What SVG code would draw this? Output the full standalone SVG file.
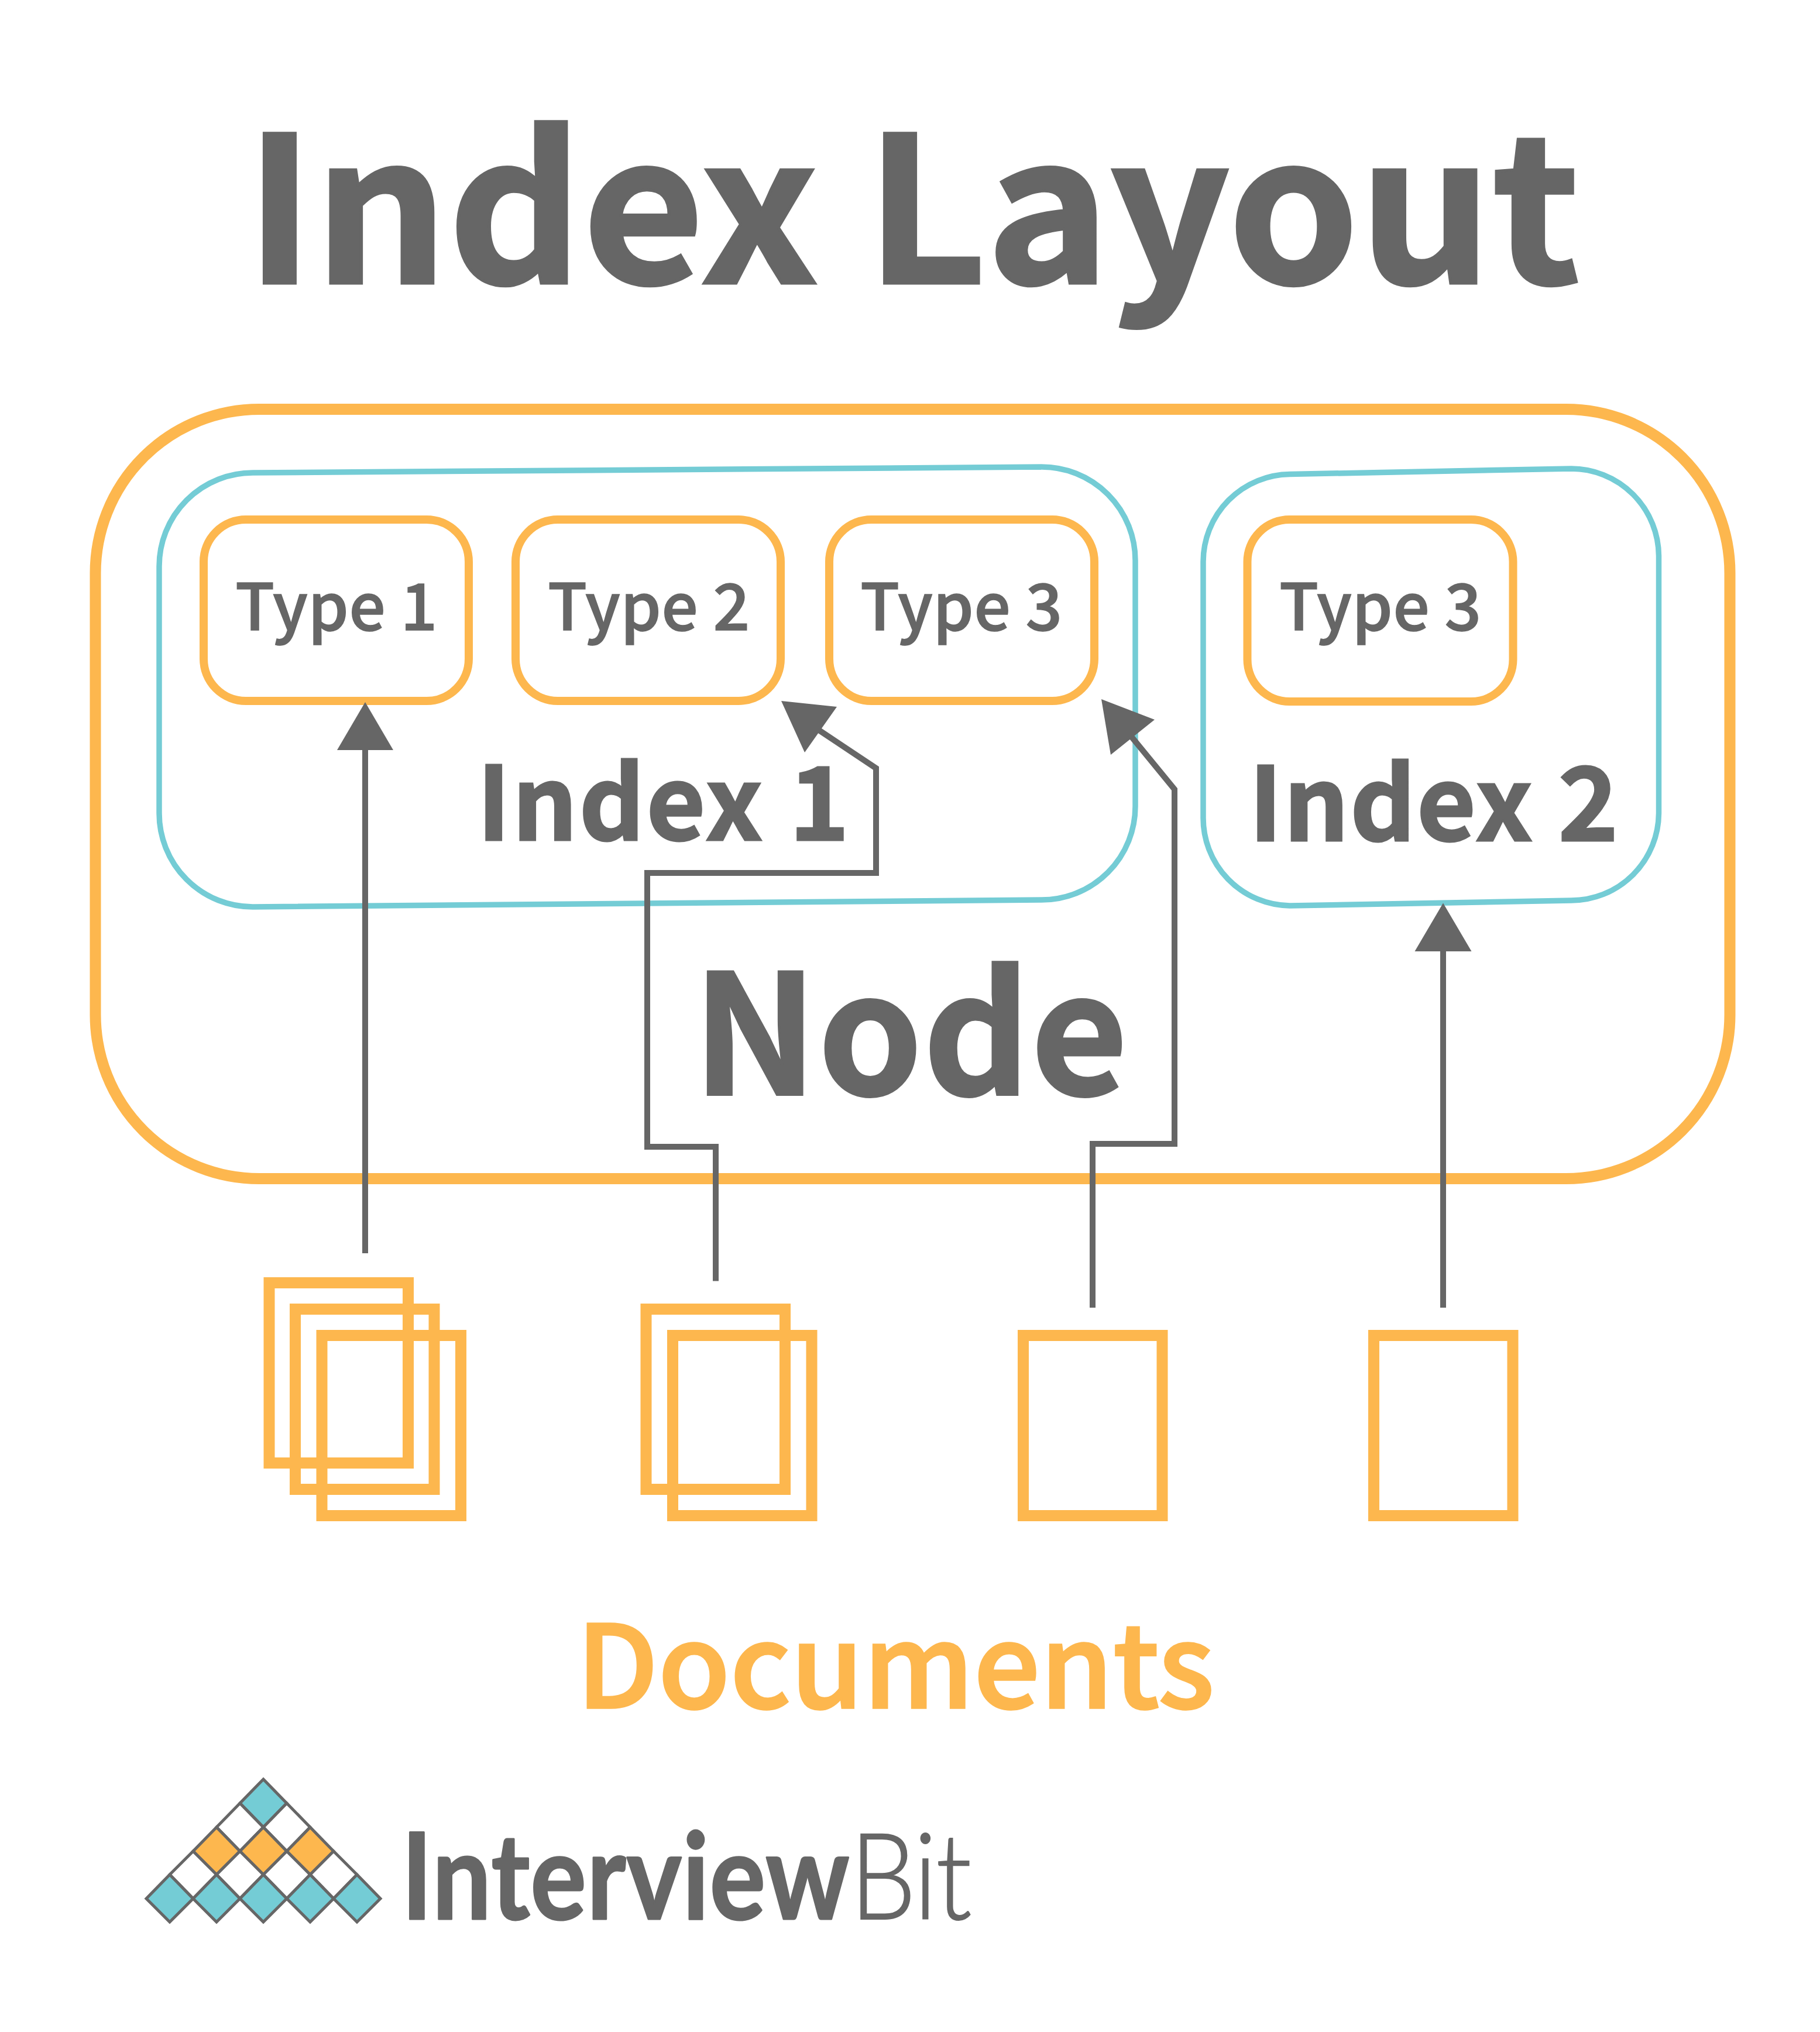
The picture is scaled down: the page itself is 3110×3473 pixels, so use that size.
<svg xmlns="http://www.w3.org/2000/svg" width="3110" height="3473" viewBox="0 0 3110 3473">
<style>
.t{font-family:"Noto Sans CJK SC","Noto Sans",sans-serif;font-weight:700;fill:#666;stroke:#666}
.ty{font-family:"Noto Sans CJK SC","Noto Sans",sans-serif;font-weight:500;font-size:110px;fill:#666;stroke:#666;stroke-width:1.5;letter-spacing:.6px}
.o{fill:none;stroke:#fdb74e;stroke-width:14}
.b{fill:none;stroke:#74ccd5;stroke-width:9.5}
.d{fill:none;stroke:#fdb74e;stroke-width:19}
.c{fill:none;stroke:#666;stroke-width:10}
.h{fill:#666}
.lg{stroke:#666;stroke-width:5}
</style>
<rect width="3110" height="3473" fill="#fff"/>
<g id="title"><text class="t" x="419" y="484" font-size="346" stroke-width="5" textLength="2281" lengthAdjust="spacingAndGlyphs">Index Layout</text></g>
<g id="node"><rect x="163" y="699.500" width="2793" height="1315" rx="280" ry="280" fill="none" stroke="#fdb74e" stroke-width="19"/>
<text class="t" x="1184" y="1871" font-size="284" stroke-width="4" letter-spacing="1.5">Node</text></g>
<g id="index1"><path class="b" d="M432 808L1780 798A160 160 0 0 1 1940 958V1378A160 160 0 0 1 1780 1538L432 1550A160 160 0 0 1 272 1390V968A160 160 0 0 1 432 808Z"/>
<text class="t" x="815" y="1436" font-size="174" stroke-width="3" letter-spacing="2.8">Index 1</text></g>
<g id="index2"><path class="b" d="M2204 810.500L2685 801A150 150 0 0 1 2834.500 950V1390A150 150 0 0 1 2685 1539L2204 1548A150 150 0 0 1 2056 1396V960A150 150 0 0 1 2204 810.500Z"/>
<text class="t" x="2134" y="1437" font-size="174" stroke-width="3" letter-spacing="2">Index 2</text></g>
<g id="type1"><rect class="o" x="348" y="888" width="453" height="310" rx="72"/><text class="ty" x="402" y="1077">Type 1</text></g>
<g id="type2"><rect class="o" x="881" y="888" width="453" height="310" rx="72"/><text class="ty" x="936" y="1077">Type 2</text></g>
<g id="type3"><rect class="o" x="1417" y="888" width="453" height="310" rx="72"/><text class="ty" x="1470" y="1077">Type 3</text></g>
<g id="type3b"><rect class="o" x="2131.500" y="888" width="454" height="311" rx="72"/><text class="ty" x="2186" y="1077">Type 3</text></g>
<g id="connectors">
<path class="c" d="M624 2142V1270"/><polygon class="h" points="624,1200 672,1282 576,1282"/>
<path class="c" d="M1223 2189.500V1960H1106V1492H1497V1313L1395 1245"/><polygon class="h" points="1335,1198 1430,1208 1375,1286"/>
<path class="c" d="M1867 2235V1955H2007V1349L1930 1255"/><polygon class="h" points="1882,1195 1973,1230 1898,1290"/>
<path class="c" d="M2466 2235V1610"/><polygon class="h" points="2466,1543.500 2514.500,1626 2417.500,1626"/>
</g>
<g id="documents">
<rect class="d" x="460" y="2192.500" width="237.500" height="308"/><rect class="d" x="504.500" y="2237.500" width="237.500" height="308"/><rect class="d" x="550" y="2282.500" width="237.500" height="308"/>
<rect class="d" x="1104" y="2237.500" width="237.500" height="308"/><rect class="d" x="1149.500" y="2282.500" width="237.500" height="308"/>
<rect class="d" x="1748.500" y="2282.500" width="237.500" height="308"/>
<rect class="d" x="2347.500" y="2282.500" width="237.500" height="308"/>
<text class="t" x="985" y="2919" font-size="196" stroke-width="3.5" textLength="1090" lengthAdjust="spacingAndGlyphs" style="fill:#fdb74e;stroke:#fdb74e;font-weight:500">Documents</text>
</g>
<g id="logo">
<g class="lg">
<polygon fill="#74ccd5" points="450,3041 490,3082 450,3123 410,3082"/>
<polygon fill="#fff" points="410,3082 450,3123 410,3164 370,3123"/><polygon fill="#fff" points="490,3082 530,3123 490,3164 450,3123"/>
<polygon fill="#fdb74e" points="370,3123 410,3164 370,3204 330,3164"/><polygon fill="#fdb74e" points="450,3123 490,3164 450,3204 410,3164"/><polygon fill="#fdb74e" points="530,3123 570,3164 530,3204 490,3164"/>
<polygon fill="#fff" points="330,3164 370,3204 330,3245 290,3204"/><polygon fill="#fff" points="410,3164 450,3204 410,3245 370,3204"/><polygon fill="#fff" points="490,3164 530,3204 490,3245 450,3204"/><polygon fill="#fff" points="570,3164 610,3204 570,3245 530,3204"/>
<polygon fill="#74ccd5" points="290,3204 330,3245 290,3285 250,3245"/><polygon fill="#74ccd5" points="370,3204 410,3245 370,3285 330,3245"/><polygon fill="#74ccd5" points="450,3204 490,3245 450,3285 410,3245"/><polygon fill="#74ccd5" points="530,3204 570,3245 530,3285 490,3245"/><polygon fill="#74ccd5" points="610,3204 650,3245 610,3285 570,3245"/>
</g>
<text transform="translate(686 3280) scale(0.87 1)" x="0" y="0" font-family="Lato,'Noto Sans',sans-serif" font-size="205" fill="#666"><tspan font-weight="700" stroke="#666" stroke-width="3" stroke-linejoin="round" letter-spacing="1.5">Interview</tspan><tspan font-weight="300" stroke="#666" stroke-width="2" letter-spacing="-2">Bit</tspan></text>
</g>
</svg>
